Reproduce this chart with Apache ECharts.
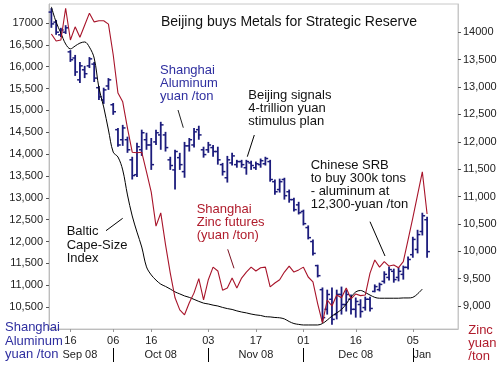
<!DOCTYPE html>
<html><head><meta charset="utf-8">
<script src="https://cdn.jsdelivr.net/npm/echarts@6/dist/echarts.min.js"></script>
<style>html,body{margin:0;padding:0;background:#fff}#c{width:503px;height:365px}</style>
</head><body><div id="c"></div>
<script>
// Trading days (Shanghai), Sep 2008 - Jan 2009
const dates = [
 '2008-09-09','2008-09-10','2008-09-11','2008-09-12','2008-09-16','2008-09-17','2008-09-18','2008-09-19','2008-09-22','2008-09-23','2008-09-24','2008-09-25','2008-09-26',
 '2008-10-06','2008-10-07','2008-10-08','2008-10-09','2008-10-10','2008-10-13','2008-10-14','2008-10-15','2008-10-16','2008-10-17','2008-10-20','2008-10-21','2008-10-22','2008-10-23','2008-10-24','2008-10-27','2008-10-28','2008-10-29','2008-10-30','2008-10-31',
 '2008-11-03','2008-11-04','2008-11-05','2008-11-06','2008-11-07','2008-11-10','2008-11-11','2008-11-12','2008-11-13','2008-11-14','2008-11-17','2008-11-18','2008-11-19','2008-11-20','2008-11-21','2008-11-24','2008-11-25','2008-11-26','2008-11-27','2008-11-28',
 '2008-12-01','2008-12-02','2008-12-03','2008-12-04','2008-12-05','2008-12-08','2008-12-09','2008-12-10','2008-12-11','2008-12-12','2008-12-15','2008-12-16','2008-12-17','2008-12-18','2008-12-19','2008-12-22','2008-12-23','2008-12-24','2008-12-25','2008-12-26','2008-12-29','2008-12-30','2008-12-31',
 '2009-01-05','2009-01-06','2009-01-07','2009-01-08','2009-01-09','2009-01-12','2009-01-13','2009-01-14','2009-01-15','2009-01-16'
];
const dayLabelDates = ['2008-09-16','2008-10-06','2008-10-16','2008-11-03','2008-11-17','2008-12-01','2008-12-16','2009-01-05'];
const monthSepDates = ['2008-10-06','2008-11-03','2008-12-01','2009-01-05'];
const monthLabelDates = ['2008-09-18','2008-10-20','2008-11-17','2008-12-16','2009-01-07'];
const monthLabelTexts = ['Sep 08','Oct 08','Nov 08','Dec 08','Jan'];
const leftTicks = [10500,11000,11500,12000,12500,13000,13500,14000,14500,15000,15500,16000,16500,17000];
const rightTicks = [9000,9500,10000,10500,11000,11500,12000,12500,13000,13500,14000];

// Shanghai aluminum (yuan/ton) OHLC
const alOpen = [17250,17020,16730,16790,16340,16200,15700,15930,16020,16060, 15520,15240,15560,15130,14560,14330,14330,13870,13530,14100, 14330,14210,14280,14440,14440,13870,13640,13920,13600,14190, 14210,14560,14100,14100,14150,14060,13760,13460,13800,13760, 13830,13690,13800,13690,13760,13780,13830,13370,13190,13420, 13140,12960,12840,12690,12320,12000,11450,10900,10450,10680, 10330,10790,10560,10680,10450,10560,10490,10680,10860,10900, 11090,11180,11320,11180,11250,11410,11700,11820,12230,12500];
const alHigh = [17340,17070,16890,16950,16380,16270,16110,16020,16220,16110, 15560,15520,15740,15170,14600,14670,14400,13940,14260,14560, 14490,14370,14560,14740,14510,13940,14100,14030,14280,14370, 14600,14650,14170,14280,14210,14170,13800,13960,14030,13870, 13870,13870,13850,13830,13900,13940,13870,13420,13440,13460, 13190,13000,12910,12730,12370,12050,11470,10950,10900,10950, 10900,10970,10900,10790,10720,10680,10740,10740,11020,11060, 11320,11430,11380,11410,11450,11660,12110,12270,12660,12570];
const alLow = [16890,16730,16680,16750,16110,15790,15630,15740,15970,15650, 15240,15150,15470,14900,14170,14190,14030,13420,13480,13960, 14100,13640,14210,14100,14060,13640,13190,13640,13460,14060, 14150,14330,13920,14030,13940,13760,13510,13350,13740,13690, 13690,13530,13640,13640,13690,13740,13370,13070,13120,12960, 12890,12690,12620,12370,12050,11680,11180,10170,10330,10100, 10220,10330,10400,10330,10260,10260,10420,10400,10840,10860, 11040,11110,11060,11090,11130,11360,11630,11730,12140,11630];
const alClose = [16980,16790,16840,16890,16160,15880,16020,15840,16180,15740, 15310,15470,15700,14970,14210,14600,14100,13510,14170,14490, 14210,13760,14490,14670,14150,13740,14060,13760,14190,14330, 14510,14440,13990,14210,14060,13870,13600,13870,13960,13830, 13760,13830,13740,13780,13850,13900,13420,13140,13370,13050, 12960,12730,12660,12410,12090,11730,11220,10260,10790,10220, 10790,10560,10790,10450,10630,10400,10680,10470,10970,11020, 11250,11360,11130,11320,11410,11590,12050,12160,12590,11770];
// Shanghai zinc futures (yuan/ton)
const zinc = [13970,13840,13860,14440,13860,14100,13910,14130,14350,14190, 14210,14210,14150,13590,12890,12730,12250,11810,11800,11810, 11450,11080,10460,10700,10120,9600,9150,8930,8840,9060, 9240,9500,9110,9480,9710,9640,9290,9330,9510,9330, 9510,9620,9710,9640,9700,9710,9350,9420,9480,9620, 9730,9620,9660,9710,9530,9440,9040,8690,9110,9000, 9200,9150,9330,9130,9220,9190,9200,9600,9840,9710, 9810,9730,9750,9700,9810,10210,10610,11030,11450,10680];
// Baltic Cape-Size index (no axis shown)
const baltic = [11900,11370,10990,10610,10440,10540,10640,10680,10500,10120, 9080,8420,7620,6850,6680,6230,5360,4630,4070,3550, 2860,2580,2400,2260,2180,2090,1990,1920,1850,1800, 1730,1660,1600,1570,1530,1500,1450,1410,1380,1330, 1290,1260,1220,1190,1170,1130,1120,1100,1090,1050, 960,890,860,840,840,840,840,890,1010,1150, 1260,1380,1570,1810,1990,2040,1970,1880,1800,1770, 1770,1770,1770,1770,1780,1780,1800,1920,2090];

const FONT = 'Liberation Sans, Arial, sans-serif';
const BAR = '#1c1c7c', RED = '#a8142a', BLUE_TXT = '#2f2fa0', RED_TXT = '#b01c2c';

const ohlc = alOpen.map((o, i) => [i, o, alHigh[i], alLow[i], alClose[i]]);

function renderOHLC(params, api) {
  const i = api.value(0);
  const pO = api.coord([i, api.value(1)]);
  const pH = api.coord([i, api.value(2)]);
  const pL = api.coord([i, api.value(3)]);
  const pC = api.coord([i, api.value(4)]);
  const x = pH[0];
  return {type: 'group', children: [
    {type: 'line', shape: {x1: x, y1: pH[1], x2: x, y2: pL[1]}, style: {stroke: BAR, lineWidth: 1.8}},
    {type: 'line', shape: {x1: x - 2.8, y1: pO[1], x2: x, y2: pO[1]}, style: {stroke: BAR, lineWidth: 1.5}},
    {type: 'line', shape: {x1: x, y1: pC[1], x2: x + 2.8, y2: pC[1]}, style: {stroke: BAR, lineWidth: 1.5}}
  ]};
}

const withComma = v => v.toLocaleString('en-US');
const fmtLeft = v => !leftTicks.includes(v) ? '' : (v === 17000 ? '17000' : withComma(v));
const fmtRight = v => !rightTicks.includes(v) ? '' : (v === 14000 ? '14000' : withComma(v));

function txt(x, y, text, color, size, lh) {
  return {type: 'text', x: x, y: y, z: 10, style: {text: text, fill: color, fontSize: size || 13, fontFamily: FONT, lineHeight: lh || 13.2, align: 'left', verticalAlign: 'top'}};
}
function ln(x1, y1, x2, y2, color) {
  return {type: 'line', z: 10, shape: {x1, y1, x2, y2}, style: {stroke: color || '#000', lineWidth: 1}};
}

const chart = echarts.init(document.getElementById('c'), null, {renderer: 'canvas'});
chart.setOption({
  animation: false,
  backgroundColor: '#fff',
  grid: {left: 49, right: 45, top: 4, bottom: 36, show: true, borderColor: '#c8c8c8', borderWidth: 1, backgroundColor: 'transparent'},
  xAxis: [{
    type: 'category', data: dates, boundaryGap: true, position: 'bottom',
    axisLine: {show: true, lineStyle: {color: '#bdbdbd', width: 1}},
    axisTick: {show: true, alignWithLabel: true, length: 3, interval: (i, v) => dayLabelDates.includes(v), lineStyle: {color: '#999'}},
    axisLabel: {interval: (i, v) => dayLabelDates.includes(v), formatter: v => v.slice(8), color: '#222', fontSize: 11, fontFamily: FONT, margin: 6},
    splitLine: {show: false}
  }, {
    type: 'category', data: dates, boundaryGap: true, position: 'bottom', offset: 19,
    axisLine: {show: false},
    axisTick: {show: true, alignWithLabel: true, length: 14, interval: (i, v) => monthSepDates.includes(v), lineStyle: {color: '#000', width: 1}},
    axisLabel: {interval: (i, v) => monthLabelDates.includes(v), formatter: v => monthLabelTexts[monthLabelDates.indexOf(v)], color: '#222', fontSize: 11, fontFamily: FONT, margin: 1},
    splitLine: {show: false}
  }],
  yAxis: [{
    type: 'value', position: 'left', min: 10000, max: 17435, interval: 500,
    axisLine: {show: true, lineStyle: {color: '#bdbdbd'}},
    axisTick: {show: true, length: 3, customValues: leftTicks, lineStyle: {color: '#555'}},
    axisLabel: {customValues: leftTicks, color: '#222', fontSize: 11, fontFamily: FONT, margin: 6, formatter: fmtLeft},
    splitLine: {show: false}
  }, {
    type: 'value', position: 'right', min: 8580, max: 14517,
    axisLine: {show: true, lineStyle: {color: '#c8c8c8'}},
    axisTick: {show: true, length: 3, customValues: rightTicks, lineStyle: {color: '#555'}},
    axisLabel: {customValues: rightTicks, color: '#222', fontSize: 11, fontFamily: FONT, margin: 5, formatter: fmtRight},
    splitLine: {show: false}
  }, {
    type: 'value', show: false, min: 700, max: 12000, position: 'right'
  }],
  series: [{
    name: 'Baltic Cape-Size Index', type: 'line', yAxisIndex: 2, data: baltic,
    showSymbol: false, symbol: 'none', smooth: 0.35, lineStyle: {color: '#000', width: 1}
  }, {
    name: 'Shanghai Aluminum', type: 'custom', yAxisIndex: 0, data: ohlc,
    encode: {x: 0, y: [1, 2, 3, 4]}, renderItem: renderOHLC
  }, {
    name: 'Shanghai Zinc', type: 'line', yAxisIndex: 1, data: zinc,
    showSymbol: false, symbol: 'none', smooth: false, lineStyle: {color: RED, width: 1.1}
  }],
  graphic: [
    {type: 'text', x: 289, y: 22, z: 10, style: {text: 'Beijing buys Metals for Strategic Reserve', fill: '#111', fontSize: 14, fontFamily: FONT, align: 'center', verticalAlign: 'middle'}},
    txt(160, 63.5, 'Shanghai\nAluminum\nyuan /ton', BLUE_TXT, 13, 13.3),
    ln(178, 110, 183.3, 127.7, '#222'),
    txt(248.3, 88.8, 'Beijing signals\n4-trillion yuan\nstimulus plan', '#111', 13, 12.9),
    ln(254.3, 135, 247.3, 156.7),
    txt(310.7, 158.5, 'Chinese SRB\nto buy 300k tons\n- aluminum at\n12,300-yuan /ton', '#111', 13, 13),
    ln(370, 221.7, 385, 256),
    txt(66.7, 225, 'Baltic\nCape-Size\nIndex', '#111', 13, 13.3),
    ln(106, 230.7, 122.7, 218.3),
    txt(196.7, 202.7, 'Shanghai\nZinc futures\n(yuan /ton)', RED_TXT, 13, 13.2),
    ln(227.7, 249.3, 234, 268.3, '#7a1020'),
    txt(5, 321, 'Shanghai\nAluminum\nyuan /ton', BLUE_TXT, 13, 13.3),
    txt(468.3, 323.3, 'Zinc\nyuan\n/ton', RED_TXT, 13, 13.3)
  ]
});
</script>
</body></html>
